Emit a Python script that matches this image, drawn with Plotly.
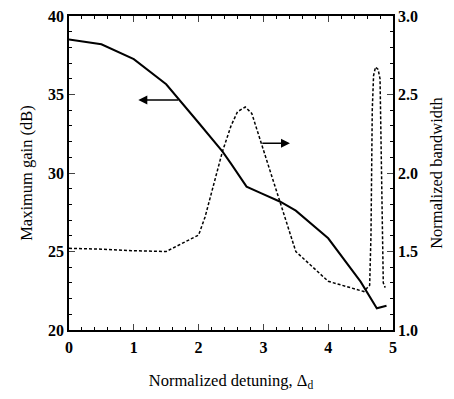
import plotly.graph_objects as go

# Maximum gain (dB), left axis
gain_x = [0, 0.5, 1.0, 1.5, 2.0, 2.37, 2.5, 2.74, 2.97, 3.26, 3.5, 4.0, 4.5, 4.75, 4.9]
gain_y = [38.5, 38.2, 37.25, 35.65, 33.2, 31.36, 30.6, 29.13, 28.7, 28.17, 27.6, 25.84, 23.08, 21.38, 21.55]

# Normalized bandwidth, right axis
bw_x = [0, 0.5, 1.0, 1.5, 2.0, 2.1, 2.37, 2.5, 2.6, 2.72, 2.82, 3.5, 4.0, 4.55, 4.64, 4.66,
        4.68, 4.70, 4.73, 4.77, 4.80, 4.81, 4.83, 4.85, 4.88]
bw_y = [1.52, 1.515, 1.505, 1.50, 1.605, 1.72, 2.14, 2.3, 2.39, 2.42, 2.38, 1.50, 1.31, 1.245, 1.285, 1.6,
        2.4, 2.62, 2.675, 2.66, 2.6, 2.3, 1.6, 1.3, 1.27]

x_ticks = [0, 1, 2, 3, 4, 5]
y_ticks = [20, 25, 30, 35, 40]
y2_ticks = [1.0, 1.5, 2.0, 2.5, 3.0]
y2_labels = ["1.0", "1.5", "2.0", "2.5", "3.0"]

serif = "Liberation Serif, Times New Roman, serif"

fig = go.Figure()
fig.add_trace(go.Scatter(x=gain_x, y=gain_y, mode="lines",
                         line=dict(color="black", width=2), yaxis="y"))
fig.add_trace(go.Scatter(x=bw_x, y=bw_y, mode="lines",
                         line=dict(color="black", width=1.5, dash="3px,2px"), yaxis="y2"))

tickfont = dict(family=serif, size=16, color="black", weight="bold")
titlefont = dict(family=serif, size=16.5, color="black")

fig.update_layout(
    width=438, height=383,
    margin=dict(l=61, r=53, t=8, b=61),
    plot_bgcolor="white", paper_bgcolor="white",
    showlegend=False,
    xaxis=dict(range=[0, 5], tickvals=x_ticks, ticks="inside", ticklen=6, tickwidth=1,
               showline=True, linecolor="black", linewidth=1.5, mirror="ticks",
               showgrid=False, zeroline=False, tickfont=tickfont, ticklabelstandoff=2,
               automargin=False, ticklabeloverflow="allow",
               minor=dict(dtick=0.2, ticks="inside", ticklen=3, tickcolor="black", showgrid=False),
               title=dict(text="Normalized detuning, Δ<sub>d</sub>", font=titlefont, standoff=27)),
    yaxis=dict(range=[20, 40], tickvals=y_ticks, ticks="inside", ticklen=6,
               showline=True, linecolor="black", linewidth=1.5,
               showgrid=False, zeroline=False, tickfont=tickfont, automargin=False,
               ticklabeloverflow="allow",
               minor=dict(dtick=1, ticks="inside", ticklen=3, tickcolor="black", showgrid=False),
               title=dict(text="Maximum gain (dB)", font=titlefont, standoff=11)),
    yaxis2=dict(range=[1.0, 3.0], tickvals=y2_ticks, ticktext=y2_labels, overlaying="y", side="right",
                ticks="inside", ticklen=6, showline=True, linecolor="black", linewidth=1.5,
                showgrid=False, zeroline=False, tickfont=tickfont, automargin=False,
                ticklabeloverflow="allow",
                minor=dict(dtick=0.1, ticks="inside", ticklen=3, tickcolor="black", showgrid=False),
                title=dict(text="Normalized bandwidth", font=titlefont, standoff=15)),
    annotations=[
        dict(x=1.07, y=34.65, xref="x", yref="y", ax=1.71, ay=34.65, axref="x", ayref="y",
             text="", showarrow=True, arrowhead=2, arrowsize=1.2, arrowwidth=1.5, arrowcolor="black"),
        dict(x=3.41, y=31.9, xref="x", yref="y", ax=2.96, ay=31.9, axref="x", ayref="y",
             text="", showarrow=True, arrowhead=2, arrowsize=1.2, arrowwidth=1.5, arrowcolor="black"),
    ],
)

fig.write_html("out.html")
